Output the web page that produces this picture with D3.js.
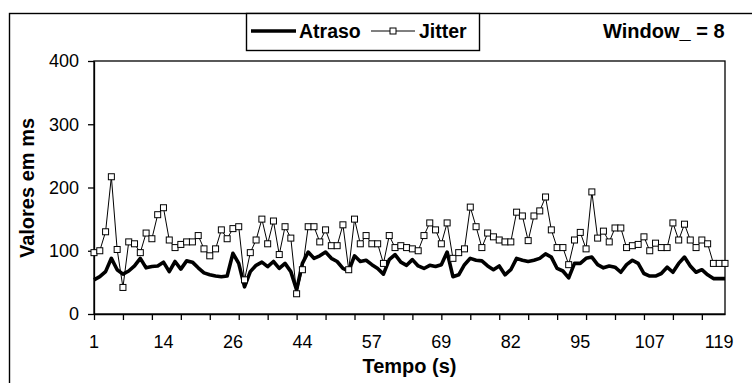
<!DOCTYPE html>
<html>
<head>
<meta charset="utf-8">
<script src="https://cdn.jsdelivr.net/npm/d3@7"></script>
<style>
  body { margin: 0; background: #fff; }
  svg { display: block; }
  text { font-family: "Liberation Sans", Arial, sans-serif; fill: #000; }
</style>
</head>
<body>
<svg id="chart" width="752" height="383"></svg>
<script>
// Delay (Atraso) and jitter per sample, in ms
const atraso = [
  54, 59, 67, 88, 70, 63, 68, 76, 88, 73, 75, 76, 82, 67, 83, 71, 84, 82, 73, 65,
  62, 60, 59, 60, 96, 80, 43, 67, 77, 82, 75, 83, 72, 80, 67, 38, 80, 98, 88, 92,
  98, 88, 83, 72, 68, 92, 83, 85, 78, 72, 63, 86, 94, 82, 77, 86, 76, 72, 77, 75,
  78, 98, 59, 62, 78, 88, 85, 84, 76, 70, 76, 62, 70, 88, 85, 83, 85, 88, 95, 90,
  72, 68, 57, 80, 80, 88, 90, 78, 73, 76, 74, 66, 78, 85, 80, 64, 60, 60, 64, 74,
  66, 80, 90, 76, 66, 70, 62, 56, 56, 56
];
const jitter = [
  97, 100, 130, 217, 102, 42, 114, 111, 97, 128, 119, 157, 168, 117, 105, 110, 114, 114, 124, 103,
  92, 103, 133, 119, 135, 138, 54, 97, 117, 150, 111, 147, 94, 138, 120, 32, 70, 138, 138, 114,
  133, 108, 108, 141, 70, 150, 111, 124, 111, 111, 80, 124, 105, 108, 105, 103, 100, 124, 144, 133,
  111, 144, 88, 97, 103, 169, 138, 105, 128, 122, 117, 114, 114, 161, 155, 116, 155, 163, 185, 133,
  105, 105, 78, 117, 129, 103, 193, 120, 131, 114, 136, 136, 105, 108, 110, 122, 100, 112, 105, 105,
  144, 117, 142, 117, 105, 117, 111, 80, 80, 80
];
// Category labels shown under every 12th sample
const timeLabels = ["1", "14", "26", "44", "57", "69", "82", "95", "107", "119"];
const labelEvery = 12;
const tickEvery = 5;
const yTickValues = [0, 100, 200, 300, 400];

const svg = d3.select("#chart");
const plot = { left: 94, top: 61, right: 725, bottom: 314 };
const samples = d3.range(atraso.length);

const x = d3.scaleLinear().domain([0, samples.length - 1]).range([plot.left, plot.right]);
const y = d3.scaleLinear().domain([0, 400]).range([plot.bottom, plot.top]);

svg.append("rect").attr("width", 752).attr("height", 383).attr("fill", "#fff");

// Outer chart frame
svg.append("rect")
  .attr("x", 9.5).attr("y", 13.5).attr("width", 800).attr("height", 400)
  .attr("fill", "none").attr("stroke", "#000").attr("stroke-width", 1.4);

// Plot area frame
svg.append("rect")
  .attr("x", plot.left).attr("y", plot.top)
  .attr("width", plot.right - plot.left).attr("height", plot.bottom - plot.top)
  .attr("fill", "none").attr("stroke", "#000").attr("stroke-width", 1.3);

// Y axis
const yAxis = svg.append("g")
  .attr("transform", `translate(${plot.left},0)`)
  .call(d3.axisLeft(y).tickValues(yTickValues).tickSize(6).tickPadding(9).tickSizeOuter(0));
yAxis.select(".domain").attr("stroke", "#000").attr("stroke-width", 1.3);
yAxis.selectAll(".tick line").attr("stroke", "#000").attr("stroke-width", 1.3);
yAxis.selectAll(".tick text").attr("font-size", 18).attr("font-family", "Liberation Sans, Arial, sans-serif").attr("fill", "#000");

// X axis: minor ticks every 5 samples, labels every 12 samples
const xAxis = svg.append("g")
  .attr("transform", `translate(0,${plot.bottom})`)
  .call(d3.axisBottom(x).tickValues(d3.range(0, samples.length, tickEvery)).tickSize(6).tickFormat("").tickSizeOuter(0));
xAxis.select(".domain").attr("stroke", "#000").attr("stroke-width", 1.3);
xAxis.selectAll(".tick line").attr("stroke", "#000").attr("stroke-width", 1.3);

svg.append("g").selectAll("text")
  .data(timeLabels)
  .join("text")
  .attr("x", (d, i) => x(i * labelEvery))
  .attr("y", plot.bottom + 34)
  .attr("text-anchor", "middle")
  .attr("font-size", 18)
  .text(d => d);

// Axis titles
svg.append("text")
  .attr("x", (plot.left + plot.right) / 2).attr("y", 373)
  .attr("text-anchor", "middle").attr("font-size", 20).attr("font-weight", "bold")
  .text("Tempo (s)");
svg.append("text")
  .attr("transform", "translate(34,188) rotate(-90)")
  .attr("text-anchor", "middle").attr("font-size", 20).attr("font-weight", "bold")
  .text("Valores em ms");

// Series
const line = d3.line().x((d, i) => x(i)).y(d => y(d));
svg.append("path").datum(atraso)
  .attr("d", line).attr("fill", "none").attr("stroke", "#000")
  .attr("stroke-width", 3.6).attr("stroke-linejoin", "round");
svg.append("path").datum(jitter)
  .attr("d", line).attr("fill", "none").attr("stroke", "#000").attr("stroke-width", 1);
const mk = 6;
svg.append("g").selectAll("rect")
  .data(jitter)
  .join("rect")
  .attr("x", (d, i) => x(i) - mk / 2).attr("y", d => y(d) - mk / 2)
  .attr("width", mk).attr("height", mk)
  .attr("fill", "#fff").attr("stroke", "#000").attr("stroke-width", 1);

// Legend
const lg = svg.append("g");
lg.append("rect")
  .attr("x", 246.5).attr("y", 13.5).attr("width", 233).attr("height", 37)
  .attr("fill", "#fff").attr("stroke", "#000").attr("stroke-width", 1.4);
lg.append("line").attr("x1", 251).attr("x2", 296).attr("y1", 31).attr("y2", 31)
  .attr("stroke", "#000").attr("stroke-width", 3.6);
lg.append("text").attr("x", 299).attr("y", 37.5)
  .attr("font-size", 19.5).attr("font-weight", "bold").text("Atraso");
lg.append("line").attr("x1", 371).attr("x2", 415).attr("y1", 31).attr("y2", 31)
  .attr("stroke", "#000").attr("stroke-width", 1);
lg.append("rect").attr("x", 393 - mk / 2).attr("y", 31 - mk / 2).attr("width", mk).attr("height", mk)
  .attr("fill", "#fff").attr("stroke", "#000").attr("stroke-width", 1);
lg.append("text").attr("x", 419).attr("y", 37.5)
  .attr("font-size", 19.5).attr("font-weight", "bold").text("Jitter");

svg.append("text").attr("x", 603).attr("y", 38)
  .attr("font-size", 20).attr("font-weight", "bold").text("Window_ = 8");
</script>
</body>
</html>
